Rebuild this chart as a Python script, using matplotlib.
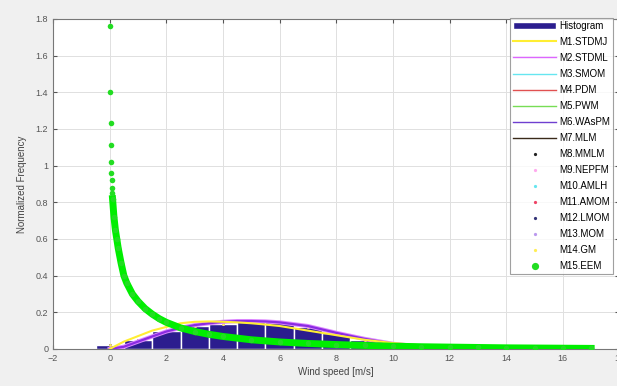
import numpy as np
import matplotlib.pyplot as plt

# histogram (bin centres / normalized frequency)
bin_centers = [0, 1, 2, 3, 4, 5, 6, 7, 8, 9, 10, 11, 12, 13, 14, 15, 16]
hist_vals = [0.02, 0.05, 0.10, 0.125, 0.135, 0.15, 0.145, 0.12, 0.085,
             0.05, 0.03, 0.015, 0.008, 0.004, 0.002, 0.001, 0.0005]

# fitted curves
curve_x = [0, 0.5, 1, 1.5, 2, 2.5, 3, 3.5, 4, 4.5, 5, 5.5, 6, 7, 8, 9,
           10, 11, 12, 13, 14, 15, 16, 17]
m1_y = [0, 0.04, 0.07, 0.10, 0.12, 0.14, 0.148, 0.15, 0.148, 0.145, 0.14,
        0.133, 0.125, 0.10, 0.075, 0.05, 0.032, 0.02, 0.011, 0.006, 0.003,
        0.0015, 0.0007, 0.0003]
m2_y = [0, 0.012, 0.04, 0.068, 0.095, 0.115, 0.13, 0.14, 0.148, 0.152,
        0.152, 0.15, 0.145, 0.125, 0.088, 0.055, 0.028, 0.013, 0.006,
        0.003, 0.0015, 0.0007, 0.0003, 0.0001]

# M15.EEM points
green_x = [0.01, 0.02, 0.03, 0.04, 0.05, 0.06, 0.07, 0.08, 0.09, 0.10,
           0.15, 0.2, 0.25, 0.3, 0.4, 0.5, 0.6, 0.8, 1.0, 1.25, 1.5, 1.75,
           2.0, 2.5, 3.0, 3.5, 4, 5, 6, 7, 8, 9, 10, 11, 12, 13, 14, 15, 16, 17]
green_y = [1.76, 1.40, 1.23, 1.11, 1.02, 0.96, 0.92, 0.88, 0.85, 0.82,
           0.72, 0.65, 0.60, 0.55, 0.47, 0.40, 0.36, 0.30, 0.26, 0.22, 0.19,
           0.165, 0.145, 0.115, 0.095, 0.08, 0.068, 0.05, 0.038, 0.03, 0.024,
           0.019, 0.015, 0.012, 0.01, 0.008, 0.006, 0.005, 0.004, 0.003]

line_labels = ["M1.STDMJ", "M2.STDML", "M3.SMOM", "M4.PDM", "M5.PWM",
               "M6.WAsPM", "M7.MLM"]
line_colors = ["#ffee33", "#dd66ff", "#66e6f0", "#e05050", "#77dd55",
               "#6f3fd0", "#3a2a1a"]
marker_labels = ["M8.MMLM", "M9.NEPFM", "M10.AMLH", "M11.AMOM",
                 "M12.LMOM", "M13.MOM", "M14.GM"]
marker_colors = ["#222222", "#ffaaee", "#66e6f0", "#ee4466", "#333377",
                 "#bb99ee", "#ffee55"]

plt.rcParams['font.family'] = 'Liberation Sans'
fig = plt.figure(figsize=(6.17, 3.86), dpi=100, facecolor="#f0f0f0")
ax = fig.add_axes([0.086, 0.096, 0.918, 0.855])

ax.bar(bin_centers, hist_vals, width=1.0, color="#2b1d8e",
       edgecolor="white", linewidth=1.0, label="Histogram", zorder=2)

# overlapping fits
for lab, col in zip(line_labels[2:], line_colors[2:]):
    ax.plot(curve_x, m2_y, color=col, linewidth=1.0, label=lab, zorder=3)
ax.plot(curve_x, m2_y, color="#dd88ff", linewidth=3.0, zorder=3)
ax.plot(curve_x, m2_y, color="#8a2be2", linewidth=1.6, zorder=3)
ax.plot(curve_x, m1_y, color=line_colors[0], linewidth=1.5,
        label=line_labels[0], zorder=3)
ax.plot([], [], color=line_colors[1], linewidth=1.0, label=line_labels[1])

for lab, col in zip(marker_labels, marker_colors):
    ax.plot(bin_centers, hist_vals, '.', color=col, markersize=2,
            label=lab, zorder=2)

ax.plot(green_x[9:], green_y[9:], '-', color="#00ee00", linewidth=5.0,
        zorder=4)
ax.plot(green_x, green_y, 'o', color="#22dd22", markersize=4,
        markeredgewidth=0, label="M15.EEM", zorder=4)

ax.set_xlim(-2, 18)
ax.set_ylim(0, 1.8)
ax.set_xticks(np.arange(-2, 19, 2))
ax.set_yticks(np.arange(0, 1.81, 0.2))
ax.set_yticklabels(["0", "0.2", "0.4", "0.6", "0.8", "1", "1.2", "1.4",
                    "1.6", "1.8"])
ax.grid(True, color="#e0e0e0", linewidth=0.7)
ax.set_axisbelow(True)
ax.tick_params(labelsize=6.5, colors="#555555", length=3, direction="in",
               top=True, right=True)
for s in ax.spines.values():
    s.set_color("#777777")
    s.set_linewidth(0.8)
ax.set_xlabel("Wind speed [m/s]", fontsize=7, color="#444444", labelpad=3)
ax.set_ylabel("Normalized Frequency", fontsize=7, color="#444444",
              labelpad=6)

handles, labels = ax.get_legend_handles_labels()
order = ["Histogram"] + line_labels + marker_labels + ["M15.EEM"]
hmap = dict(zip(labels, handles))
leg = ax.legend([hmap[k] for k in order], order, loc="upper right",
                bbox_to_anchor=(0.988, 1.003), borderaxespad=0,
                fontsize=7.0, frameon=True, fancybox=False,
                edgecolor="#888888", handlelength=4.4, labelspacing=0.62,
                borderpad=0.3, handletextpad=0.3, markerscale=1.3)
leg.get_frame().set_linewidth(0.8)

plt.savefig("out.png", dpi=100, facecolor=fig.get_facecolor())
